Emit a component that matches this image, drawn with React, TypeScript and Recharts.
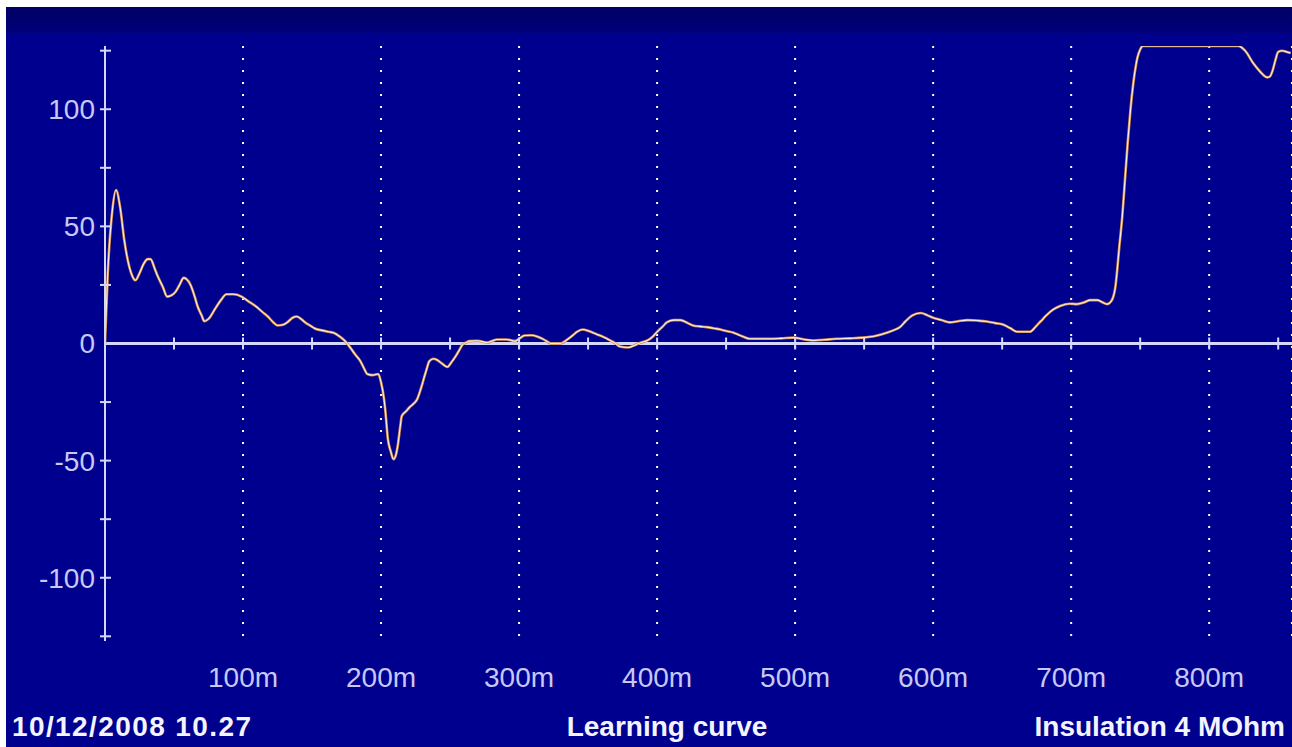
import {
  CartesianGrid,
  Line,
  LineChart,
  ReferenceDot,
  ReferenceLine,
  XAxis,
  YAxis,
} from "recharts"

// distance along the cable (m) and reflection level
const distance = [
  0, 2, 5, 8, 11, 14, 16, 19, 22, 25, 28, 31, 33, 36, 38, 42, 45, 48, 51, 54,
  57, 59, 62, 65, 67, 70, 72, 75, 80, 84, 88, 93, 99, 104, 109, 114, 118, 122,
  125, 129, 132, 136, 139, 142, 145, 149, 152, 158, 162, 166, 170, 174, 176,
  178, 181, 185, 188, 190, 194, 198, 200, 202, 203, 205, 207, 209, 211, 212,
  214, 215, 218, 221, 224, 226, 229, 231, 233, 235, 238, 240, 244, 248, 251,
  254, 257, 259, 262, 264, 270, 277, 281, 284, 291, 297, 300, 304, 309, 313,
  317, 320, 323, 330, 335, 339, 342, 346, 351, 356, 361, 366, 370, 373, 379,
  385, 389, 393, 397, 400, 404, 407, 412, 417, 422, 426, 431, 436, 441, 446,
  451, 455, 458, 462, 467, 475, 482, 490, 499, 506, 513, 521, 530, 540, 549,
  558, 567, 572, 576, 580, 585, 591, 596, 600, 606, 612, 618, 625, 632, 639,
  645, 651, 656, 661, 665, 670, 674, 678, 682, 687, 692, 699, 704, 709, 714,
  719, 723, 726, 729, 732, 735, 737, 739, 741, 743, 745, 747, 748, 750, 752,
  760, 780, 800, 810, 821, 826, 832, 837, 842, 844, 846, 848, 850, 853, 856,
  859,
]

const level = [
  0, 30, 55, 65.5, 58, 44, 37, 30, 27, 30, 34, 36, 36, 32, 29, 24, 20, 20.5,
  22, 25, 28, 27.5, 25, 20, 16, 12, 9.5, 10.5, 15, 18.5, 21, 21, 20, 18, 16,
  13.5, 11.5, 9, 7.7, 8, 9, 11, 11.5, 10.5, 9, 7.5, 6.4, 5.5, 5, 4.5, 3, 1,
  -0.4, -2, -4.5, -7.5, -11, -13, -13.5, -13, -16.6, -23, -28, -41, -46, -49.4,
  -47, -44, -35, -31, -29, -27, -25.5, -24, -19, -15, -11, -7.5, -6.5, -6.8,
  -8.5, -10, -8, -5.5, -2.5, -0.5, 0.5, 1, 1.2, 0.4, 1.2, 1.7, 1.7, 1, 2, 3.4,
  3.5, 3, 2, 1, 0, 0, 1.7, 3.5, 5, 6, 5.2, 4, 2.8, 1.3, 0, -1.3, -1.7, -0.4,
  0.5, 1.3, 3, 5, 7.2, 9, 10, 10, 8.8, 7.7, 7.3, 7, 6.5, 6, 5.2, 4.7, 4, 3, 2,
  2, 2, 2.2, 2.5, 1.8, 1.3, 1.6, 2, 2.2, 2.5, 3.2, 4.7, 5.8, 7, 9.5, 12, 13,
  12, 11, 10, 9, 9.5, 10, 9.8, 9.4, 8.7, 8, 6.5, 5, 5, 5, 7, 9.5, 12, 14.5,
  16, 17, 16.8, 17.5, 18.5, 18.5, 17.5, 16.8, 18, 24, 42, 54, 70, 86, 100, 111,
  119, 122, 125.5, 127, 127, 127, 127, 127, 127, 125, 119.6, 116, 113.6, 114,
  116.6, 121, 124.5, 125, 124.5, 124,
]

const xLabelTicks = [100, 200, 300, 400, 500, 600, 700, 800]
const xMinorTicks = [
  50, 100, 150, 200, 250, 300, 350, 400, 450, 500, 550, 600, 650, 700, 750, 800,
  850,
]
const yLabelTicks = [-100, -50, 0, 50, 100]
const yMinorTicks = [-125, -100, -75, -50, -25, 25, 50, 75, 100, 125]

const footerLeft = "10/12/2008 10.27"
const footerCenter = "Learning curve"
const footerRight = "Insulation 4 MOhm"

const data = distance.map((d, i) => ({ d, v: level[i] }))

const AXIS = "#d4d8ff"
const LABEL = "#c8c8f4"
const FONT = "'Liberation Sans', Arial, sans-serif"

const footerStyle = {
  position: "absolute" as const,
  top: 713,
  fontFamily: FONT,
  fontWeight: 700,
  fontSize: 28,
  lineHeight: "28px",
  color: "#f4f4ff",
  whiteSpace: "nowrap" as const,
}

export default function App() {
  return (
    <div
      style={{
        position: "relative",
        width: 1292,
        height: 747,
        background: "#ffffff",
        overflow: "hidden",
      }}
    >
      <style>{"body{margin:0}"}</style>
      <div
        style={{
          position: "absolute",
          left: 6,
          top: 7,
          right: 0,
          bottom: 0,
          background: "#00008f",
        }}
      />
      <div
        style={{
          position: "absolute",
          left: 6,
          top: 7,
          right: 0,
          height: 26,
          background: "linear-gradient(#000064, #00007a)",
        }}
      />
      <div style={{ position: "absolute", left: 0, top: 0 }}>
        <LineChart
          width={1292}
          height={747}
          data={data}
          margin={{ top: 46, right: 0, bottom: 76, left: 5 }}
        >
          <CartesianGrid
            horizontal={false}
            stroke="#ffffff"
            strokeWidth={2}
            strokeDasharray="2 10"
          />
          <XAxis
            dataKey="d"
            type="number"
            domain={[0, 860]}
            ticks={xLabelTicks}
            tickFormatter={(v) => `${v}m`}
            axisLine={false}
            tickLine={false}
            tickSize={0}
            tickMargin={26}
            height={30}
            tick={{ fill: LABEL, fontSize: 28, fontFamily: FONT }}
            allowDataOverflow
          />
          <YAxis
            type="number"
            domain={[-127, 127]}
            ticks={yLabelTicks}
            width={100}
            axisLine={{ stroke: AXIS, strokeWidth: 2 }}
            tickLine={false}
            tickSize={0}
            tickMargin={10}
            tick={{ fill: LABEL, fontSize: 28, fontFamily: FONT }}
            allowDataOverflow
          />
          <ReferenceLine y={0} stroke={AXIS} strokeWidth={3} />
          {xMinorTicks.map((t) => (
            <ReferenceDot
              key={`x${t}`}
              x={t}
              y={0}
              r={0}
              ifOverflow="visible"
              shape={(p: any) => (
                <line
                  x1={p.cx}
                  x2={p.cx}
                  y1={p.cy - 6}
                  y2={p.cy + 6}
                  stroke={AXIS}
                  strokeWidth={2}
                />
              )}
            />
          ))}
          {yMinorTicks.map((t) => (
            <ReferenceDot
              key={`y${t}`}
              x={0}
              y={t}
              r={0}
              ifOverflow="visible"
              shape={(p: any) => (
                <line
                  x1={p.cx - 5}
                  x2={p.cx + 6}
                  y1={p.cy}
                  y2={p.cy}
                  stroke={AXIS}
                  strokeWidth={2}
                />
              )}
            />
          ))}
          <Line
            dataKey="v"
            type="monotone"
            stroke="#d08a48"
            strokeWidth={2.6}
            dot={false}
            isAnimationActive={false}
          />
          <Line
            dataKey="v"
            type="monotone"
            stroke="#fbeedd"
            strokeWidth={1.1}
            dot={false}
            isAnimationActive={false}
          />
        </LineChart>
      </div>
      <div style={{ ...footerStyle, left: 12, letterSpacing: 1.4 }}>
        {footerLeft}
      </div>
      <div
        style={{
          ...footerStyle,
          left: 667,
          transform: "translateX(-50%)",
        }}
      >
        {footerCenter}
      </div>
      <div style={{ ...footerStyle, right: 7 }}>{footerRight}</div>
    </div>
  )
}
